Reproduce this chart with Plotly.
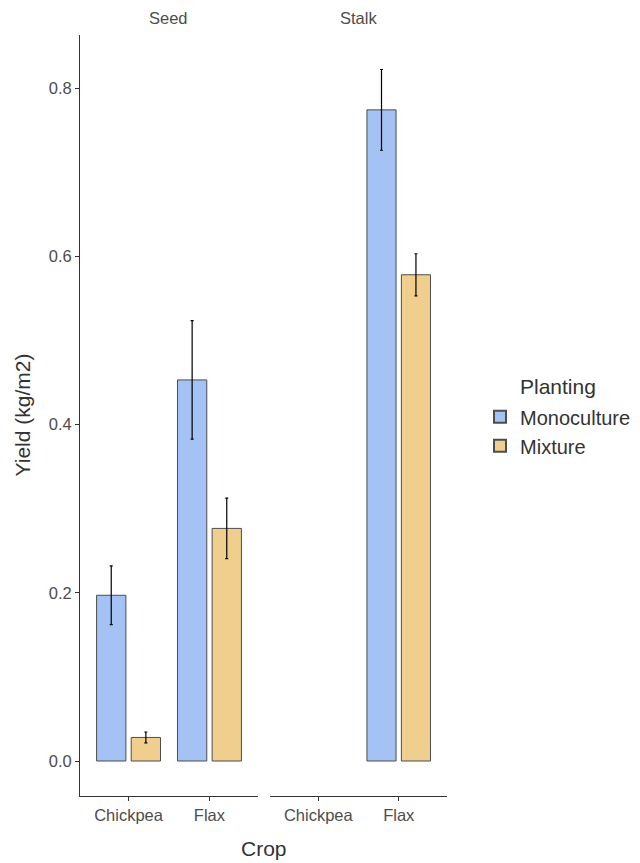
import plotly.graph_objects as go

crops = ["Chickpea", "Flax"]
facets = ["Seed", "Stalk"]
plantings = ["Monoculture", "Mixture"]

# yield means and error half-widths per facet
seed_mono = [0.197, 0.453]
seed_mono_err = [0.035, 0.0705]
seed_mix = [0.028, 0.2765]
seed_mix_err = [0.0065, 0.036]
stalk_mono = [None, 0.774]
stalk_mono_err = [0, 0.048]
stalk_mix = [None, 0.578]
stalk_mix_err = [0, 0.025]

colors = {"Monoculture": "#A4C2F4", "Mixture": "#F0CE8D"}
FONT = "Liberation Sans, Arial, sans-serif"
TICK = dict(size=16.5, color="#4d4d4d", family=FONT)

fig = go.Figure()

series = [
    ("Monoculture", seed_mono, seed_mono_err, "x", True),
    ("Mixture", seed_mix, seed_mix_err, "x", True),
    ("Monoculture", stalk_mono, stalk_mono_err, "x2", False),
    ("Mixture", stalk_mix, stalk_mix_err, "x2", False),
]
for name, vals, errs, xa, show in series:
    fig.add_trace(go.Bar(
        x=crops, y=vals, name=name, xaxis=xa, yaxis="y",
        legendgroup=name, showlegend=show, offsetgroup=name,
        marker=dict(color=colors[name], line=dict(color="#4d4d4d", width=1)),
        error_y=dict(type="data", array=errs, color="black", thickness=1.2, width=1.5),
    ))

axis_common = dict(
    type="category", categoryorder="array", categoryarray=crops,
    range=[-0.6, 1.6], showline=True, linecolor="#333333", linewidth=1,
    ticks="outside", ticklen=4, tickcolor="#333333", tickfont=TICK,
    showgrid=False, zeroline=False, anchor="y", automargin=False,
)

fig.update_layout(
    width=660, height=855,
    margin=dict(l=72, r=221, t=27, b=67),
    paper_bgcolor="white", plot_bgcolor="white",
    barmode="group", bargap=0.144, bargroupgap=0.154,
    font=dict(family=FONT, color="#333333"),
    xaxis=dict(domain=[0, 0.485], **axis_common),
    xaxis2=dict(domain=[0.5177, 1], **axis_common),
    yaxis=dict(
        range=[-0.0416, 0.863], tickvals=[0, 0.2, 0.4, 0.6, 0.8], tickformat=".1f",
        showline=True, linecolor="#333333", linewidth=1,
        ticks="outside", ticklen=4, tickcolor="#333333", tickfont=TICK,
        showgrid=False, zeroline=False, automargin=False,
    ),
    legend=dict(
        x=1.09, y=0.524, xanchor="left", yanchor="top",
        font=dict(size=20, color="#333333", family=FONT),
        tracegroupgap=0, itemsizing="constant",
    ),
    annotations=[
        dict(text=facets[0], x=0.2425, y=1, xref="paper", yref="paper",
             xanchor="center", yanchor="bottom", yshift=6, showarrow=False,
             font=dict(size=16.5, color="#4d4d4d", family=FONT)),
        dict(text=facets[1], x=0.75885, y=1, xref="paper", yref="paper",
             xanchor="center", yanchor="bottom", yshift=6, showarrow=False,
             font=dict(size=16.5, color="#4d4d4d", family=FONT)),
        dict(text="Crop", x=0.5, y=0, xref="paper", yref="paper",
             xanchor="center", yanchor="middle", yshift=-52, showarrow=False,
             font=dict(size=21, color="#333333", family=FONT)),
        dict(text="Yield (kg/m2)", x=0, y=0.5, xref="paper", yref="paper",
             xanchor="center", yanchor="middle", xshift=-58, textangle=-90,
             showarrow=False, font=dict(size=21, color="#333333", family=FONT)),
        dict(text="Planting", x=1.0, y=0.5, xref="paper", yref="paper",
             xanchor="left", yanchor="middle", xshift=71, yshift=29,
             showarrow=False, font=dict(size=21, color="#333333", family=FONT)),
    ],
)

fig.write_html("out.html")
